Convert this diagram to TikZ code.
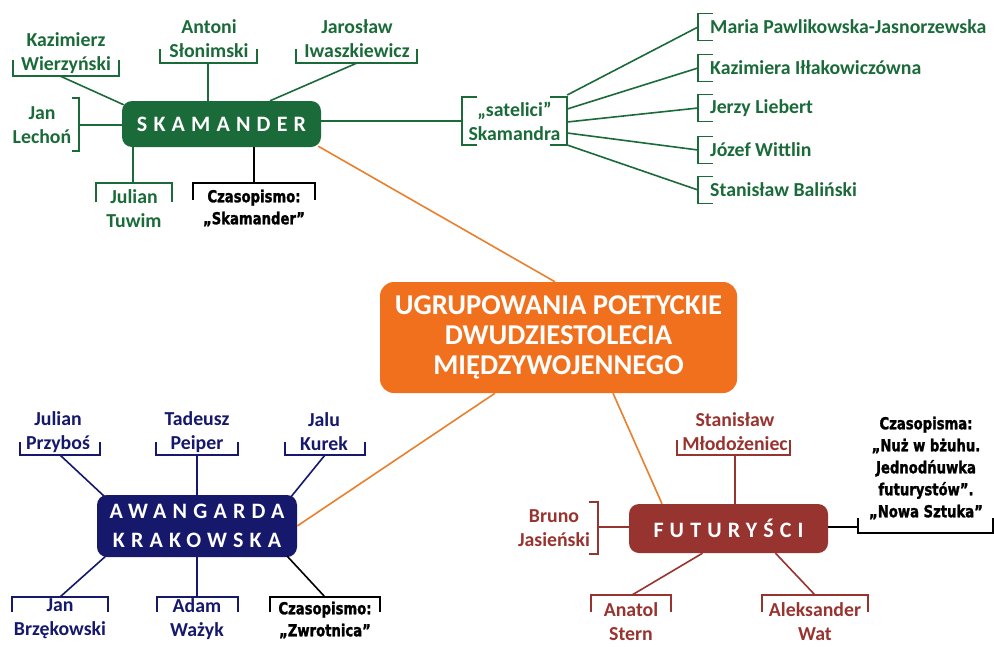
\documentclass[tikz,border=0pt]{standalone}
\usepackage{fontspec}
\setmainfont{Carlito}
\newfontfamily\spacedfont{Carlito}[LetterSpace=28]
\newfontfamily\zinefont{DejaVu Sans}[FakeStretch=0.8, FakeBold=1.5]
\definecolor{skamanderGreen}{RGB}{27,107,58}
\definecolor{awangardaNavy}{RGB}{22,24,108}
\definecolor{futurysciRed}{RGB}{152,52,48}
\definecolor{hubOrange}{RGB}{241,112,30}
\definecolor{linkOrange}{RGB}{232,128,45}
\tikzset{
  groupbox/.style={rectangle, rounded corners=10pt, text=white, align=center, inner sep=0pt, font=\spacedfont\bfseries\fontsize{22}{29}\selectfont},
  poet/.style={align=center, inner sep=0pt, font=\bfseries\fontsize{19.8}{24}\selectfont},
  zine/.style={align=center, inner sep=0pt, black, font=\zinefont\bfseries\fontsize{16.5}{22}\selectfont},
  link/.style={line width=1.6pt},
}
\begin{document}
\begin{tikzpicture}[x=1pt, y=-1pt]
\useasboundingbox (0,0) rectangle (994,646);
\fill[white] (0,0) rectangle (994,646);

\node[groupbox, fill=hubOrange, minimum width=357pt, minimum height=111pt, rounded corners=14pt, font=\bfseries\fontsize{28.7}{30}\selectfont] (hub) at (558.5,337.5) {UGRUPOWANIA POETYCKIE\\DWUDZIESTOLECIA\\MIĘDZYWOJENNEGO};
\node[groupbox, fill=skamanderGreen, minimum width=199pt, minimum height=46pt] (skamander) at (221.5,124) {SKAMANDER};
\node[groupbox, fill=awangardaNavy, minimum width=200pt, minimum height=62pt] (awangarda) at (197,526) {AWANGARDA\\KRAKOWSKA};
\node[groupbox, fill=futurysciRed, minimum width=199pt, minimum height=49pt] (futurysci) at (728.5,528.5) {FUTURYŚCI};

\draw[link, linkOrange] ([shift={(-3,-1)}]skamander.south east) -- ([shift={(-3.5,0)}]hub.north);
\draw[link, linkOrange] ([shift={(-63.5,0)}]hub.south) -- (awangarda.east);
\draw[link, linkOrange] ([shift={(54.5,0)}]hub.south) -- ([shift={(-66.5,0)}]futurysci.north);

\begin{scope}[skamanderGreen]
  \node[poet] (wierzynski) at (66,53) {Kazimierz\\Wierzyński};
  \draw[link] (13,60) |- (119,76) -- (119,60);
  \coordinate (wierzynski-b) at (60,76);
  \draw[link] (wierzynski-b) -- ([shift={(2,4)}]skamander.north west);

  \node[poet] (slonimski) at (209,39) {Antoni\\Słonimski};
  \draw[link] (160,49) |- (257,63) -- (257,49);
  \coordinate (slonimski-b) at (208,63);
  \draw[link] (slonimski-b) -- (slonimski-b |- skamander.north);

  \node[poet] (iwaszkiewicz) at (357,39) {Jarosław\\Iwaszkiewicz};
  \draw[link] (296,49) |- (417,63) -- (417,49);
  \coordinate (iwaszkiewicz-b) at (357,63);
  \draw[link] (iwaszkiewicz-b) -- ([shift={(48.5,0)}]skamander.north);

  \node[poet] (lechon) at (42,125) {Jan\\Lechoń};
  \draw[link] (72,98) -| (79,151) -- (72,151);
  \coordinate (lechon-b) at (79,125);
  \draw[link] (lechon-b) -- (lechon-b -| skamander.west);

  \node[poet] (tuwim) at (134,209) {Julian\\Tuwim};
  \draw[link] (96,202) |- (172,183) -- (172,202);
  \coordinate (tuwim-b) at (133,183);
  \draw[link] (tuwim-b) -- (tuwim-b |- skamander.south);

  \node[poet, minimum width=105pt, minimum height=48pt] (satelici) at (514.5,121) {„satelici”\\Skamandra};
  \draw[link] ([shift={(15,0)}]satelici.north west) -- (satelici.north west) -- (satelici.south west) -- ([shift={(15,0)}]satelici.south west);
  \draw[link] ([shift={(-17,0)}]satelici.north east) -- (satelici.north east) -- (satelici.south east) -- ([shift={(-17,0)}]satelici.south east);
  \draw[link] (satelici.west -| skamander.east) -- (satelici.west);

  \foreach \poet/\y/\s [count=\i] in {Maria Pawlikowska-Jasnorzewska/27/95, Kazimiera Iłłakowiczówna/68/109, Jerzy Liebert/108/122, Józef Wittlin/150/133, Stanisław Baliński/190/145} {
    \node[poet, anchor=west] (sat\i) at (710,\y) {\poet};
    \draw[link] (713,\y-13.5) -- (698,\y-13.5) -- (698,\y+13.5) -- (713,\y+13.5);
    \coordinate (sat\i-b) at (698,\y);
    \draw[link] (satelici.east |- 0,\s) -- (sat\i-b);
  }
\end{scope}

\node[zine] (skamander-zine) at (254,208) {Czasopismo:\\„Skamander”};
\draw[link] (193,200) |- (315,183) -- (315,200);
\coordinate (skamander-zine-b) at (254,183);
\draw[link] (skamander-zine-b) -- (skamander-zine-b |- skamander.south);

\begin{scope}[awangardaNavy]
  \node[poet] (przybos) at (58,432) {Julian\\Przyboś};
  \draw[link] (20,442) |- (100,455) -- (100,442);
  \coordinate (przybos-b) at (60,455);
  \draw[link] (przybos-b) -- ([shift={(8,2)}]awangarda.north west);

  \node[poet] (peiper) at (197,432) {Tadeusz\\Peiper};
  \draw[link] (156,442) |- (238,455) -- (238,442);
  \coordinate (peiper-b) at (197,455);
  \draw[link] (peiper-b) -- (peiper-b |- awangarda.north);

  \node[poet] (kurek) at (324,432) {Jalu\\Kurek};
  \draw[link] (285,442) |- (365,455) -- (365,442);
  \coordinate (kurek-b) at (325,455);
  \draw[link] (kurek-b) -- ([shift={(-7,3)}]awangarda.north east);

  \node[poet] (brzekowski) at (60,619) {Jan\\Brzękowski};
  \draw[link] (12,612) |- (108,597) -- (108,612);
  \coordinate (brzekowski-b) at (60,597);
  \draw[link] (brzekowski-b) -- ([shift={(10,-2)}]awangarda.south west);

  \node[poet] (wazyk) at (197,619) {Adam\\Ważyk};
  \draw[link] (157,612) |- (238,597) -- (238,612);
  \coordinate (wazyk-b) at (197,597);
  \draw[link] (wazyk-b) -- (wazyk-b |- awangarda.south);
\end{scope}

\node[zine] (zwrotnica) at (325,620) {Czasopismo:\\„Zwrotnica”};
\draw[link] (270,612) |- (380,597) -- (380,612);
\coordinate (zwrotnica-b) at (325,597);
\draw[link] (zwrotnica-b) -- ([shift={(-10,-1)}]awangarda.south east);

\begin{scope}[futurysciRed]
  \node[poet] (mlodozeniec) at (735,432) {Stanisław\\Młodożeniec};
  \draw[link] (677,440) |- (790,455) -- (790,440);
  \coordinate (mlodozeniec-b) at (735,455);
  \draw[link] (mlodozeniec-b) -- (mlodozeniec-b |- futurysci.north);

  \node[poet] (jasienski) at (554,528) {Bruno\\Jasieński};
  \draw[link] (589,502) -| (598,554) -- (589,554);
  \coordinate (jasienski-b) at (598,527);
  \draw[link] (jasienski-b) -- (jasienski-b -| futurysci.west);

  \node[poet] (stern) at (631,622) {Anatol\\Stern};
  \draw[link] (591,612) |- (671,595) -- (671,612);
  \coordinate (stern-b) at (632,595);
  \draw[link] (stern-b) -- ([shift={(-26,0)}]futurysci.south);

  \node[poet] (wat) at (815,622) {Aleksander\\Wat};
  \draw[link] (762,612) |- (868,595) -- (868,612);
  \coordinate (wat-b) at (815,595);
  \draw[link] (wat-b) -- ([shift={(47,0)}]futurysci.south);
\end{scope}

\node[zine] (futurysci-zine) at (926,468) {Czasopisma:\\„Nuż w bżuhu.\\Jednodńuwka\\futurystów”.\\„Nowa Sztuka”};
\draw[link] (858,518) |- (993,533) -- (993,518);
\coordinate (futurysci-zine-b) at (858,527);
\draw[link] (futurysci.east |- futurysci-zine-b) -- (futurysci-zine-b);
\end{tikzpicture}
\end{document}
